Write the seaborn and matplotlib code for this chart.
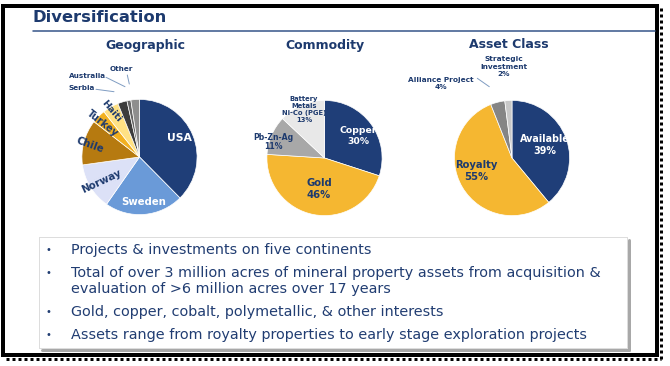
import matplotlib
matplotlib.use("Agg")
import matplotlib.pyplot as plt
from matplotlib.patches import Rectangle
import seaborn as sns

# ---------------- data ----------------
geo_labels = ["USA", "Sweden", "Norway", "Chile", "Turkey", "Haiti", "Serbia", "Australia", "Other"]
geo_values = [37.6, 22.1, 13.1, 12.7, 3.9, 4.5, 2.6, 1.1, 2.4]
geo_colors = ["#1F3E78", "#6A9AD8", "#DCE1F7", "#B67A10", "#F2B020", "#FFE184", "#3C3C3C", "#666666", "#8E8E8E"]

com_labels = ["Copper", "Gold", "Pb-Zn-Ag", "Battery\nMetals\nNi-Co (PGE)"]
com_values = [30, 46, 11, 13]
com_colors = ["#1F3E78", "#F5B731", "#A8A8A8", "#E8E8E8"]

ast_labels = ["Available", "Royalty", "Alliance Project", "Strategic\nInvestment"]
ast_values = [39, 55, 4, 2]
ast_colors = ["#1F3E78", "#F5B731", "#858585", "#C8C8C8"]

bullets = [
    "Projects & investments on five continents",
    "Total of over 3 million acres of mineral property assets from acquisition &\nevaluation of >6 million acres over 17 years",
    "Gold, copper, cobalt, polymetallic, & other interests",
    "Assets range from royalty properties to early stage exploration projects",
]

# ---------------- style ----------------
sns.set_theme(style="white")
plt.rcParams["font.family"] = ["DejaVu Sans"]

NAVY = "#1D3A6E"
TXT = "#213D72"
W, H = 670, 366
fig = plt.figure(figsize=(W / 100, H / 100), dpi=100)
fig.patch.set_facecolor("white")


def pixel_axes():
    a = fig.add_axes([0, 0, 1, 1])
    a.set_xlim(0, W)
    a.set_ylim(H, 0)
    a.axis("off")
    a.patch.set_alpha(0)
    return a


bg = pixel_axes()
px = 72 / 100  # points per pixel

# outer frame with dotted shadow
bg.add_patch(Rectangle((3, 5.5), 654, 349, fill=False, edgecolor="black", lw=4 * px))
bg.plot([661, 661], [8, 360], color="black", lw=3 * px, ls=(0, (1, 1)))
bg.plot([6, 661], [359, 359], color="black", lw=3 * px, ls=(0, (1, 1)))

# title + underline
bg.text(33, 17, "Diversification", fontsize=11.8, fontweight="bold", color=NAVY, va="center", ha="left")
bg.plot([33, 655], [31, 31], color="#3E5C8E", lw=1.6 * px)

# subtitles
for cx, t in [(145, "Geographic"), (325, "Commodity"), (509, "Asset Class")]:
    bg.text(cx, 45, t, fontsize=9, fontweight="bold", color=NAVY, ha="center", va="center")


def pie_axes(cx, cy, r=72):
    ax = fig.add_axes([(cx - r) / W, 1 - (cy + r) / H, 2 * r / W, 2 * r / H])
    ax.set_xlim(-1, 1)
    ax.set_ylim(-1, 1)
    ax.axis("off")
    return ax


for (cx, cy), vals, cols in [((139.5, 157), geo_values, geo_colors),
                              ((324.5, 158), com_values, com_colors),
                              ((512, 158), ast_values, ast_colors)]:
    ax = pie_axes(cx, cy)
    ax.pie(vals, colors=sns.color_palette(cols), startangle=90, counterclock=False, radius=1,
           wedgeprops=dict(edgecolor="white", linewidth=0.5))

# overlay for labels (above pies)
fg = pixel_axes()


def lab(x, y, s, size=7.3, color=NAVY, rot=0, ls=1.0):
    fg.text(x, y, s, fontsize=size, fontweight="bold", color=color, ha="center", va="center",
            rotation=rot, linespacing=ls, rotation_mode="anchor")


# ---- Geographic labels ----
lab(179, 138, geo_labels[0], 7.8, "white")
lab(144, 202, geo_labels[1], 7.3, "white")
lab(101, 181, geo_labels[2], 7.3, NAVY, 25)
lab(90, 145, geo_labels[3], 7.3, NAVY, -20)
lab(102, 123, geo_labels[4], 7.0, NAVY, -38)
lab(111, 111, geo_labels[5], 6.8, NAVY, -50)
lab(82, 88, geo_labels[6], 5.2)
lab(88, 76, geo_labels[7], 5.2)
lab(121, 69, geo_labels[8], 5.2)
lead = "#7F9CC2"
fg.plot([127.3, 129.3], [75, 84], color=lead, lw=0.7)
fg.plot([106, 125], [77.3, 86.7], color=lead, lw=0.7)
fg.plot([96, 114], [89.3, 91.7], color=lead, lw=0.7)

# ---- Commodity labels ----
lab(358, 136, f"{com_labels[0]}\n{com_values[0]}%", 6.7, "white", ls=1.15)
lab(319, 189, f"{com_labels[1]}\n{com_values[1]}%", 7.2, NAVY, ls=1.15)
lab(273, 142, f"{com_labels[2]}\n{com_values[2]}%", 5.6, NAVY, ls=1.05)
lab(304, 110, f"{com_labels[3]}\n{com_values[3]}%", 4.9, NAVY, ls=1.2)

# ---- Asset class labels ----
lab(545, 145, f"{ast_labels[0]}\n{ast_values[0]}%", 6.9, "white", ls=1.15)
lab(476, 171, f"{ast_labels[1]}\n{ast_values[1]}%", 7.2, NAVY, ls=1.15)
lab(441, 83.5, f"{ast_labels[2]}\n{ast_values[2]}%", 5.3, NAVY, ls=1.15)
lab(504, 67, f"{ast_labels[3]}\n{ast_values[3]}%", 5.3, NAVY, ls=1.3)
fg.plot([477.3, 489.3], [78.3, 86.7], color=lead, lw=0.7)

# ---- bullet box ----
bg.plot([629, 629], [240, 350], color="#A8A8A8", lw=3 * px)
bg.plot([42, 629], [350, 350], color="#A8A8A8", lw=3 * px)
bg.add_patch(Rectangle((39, 237), 588, 111, facecolor="white", edgecolor="#BDBDBD",
                       lw=1 * px, ls=(0, (1, 1)), zorder=2))
ys = [250, 281, 312, 335]
for y, t in zip(ys, bullets):
    nl = t.count("\n")
    bg.text(48, y - 8 * nl, "•", fontsize=7, color=TXT, ha="center", va="center", zorder=3)
    bg.text(71, y, t, fontsize=10.4, color=TXT, ha="left", va="center", linespacing=1.12, zorder=3)

fig.savefig("out.png", dpi=100, facecolor="white")
